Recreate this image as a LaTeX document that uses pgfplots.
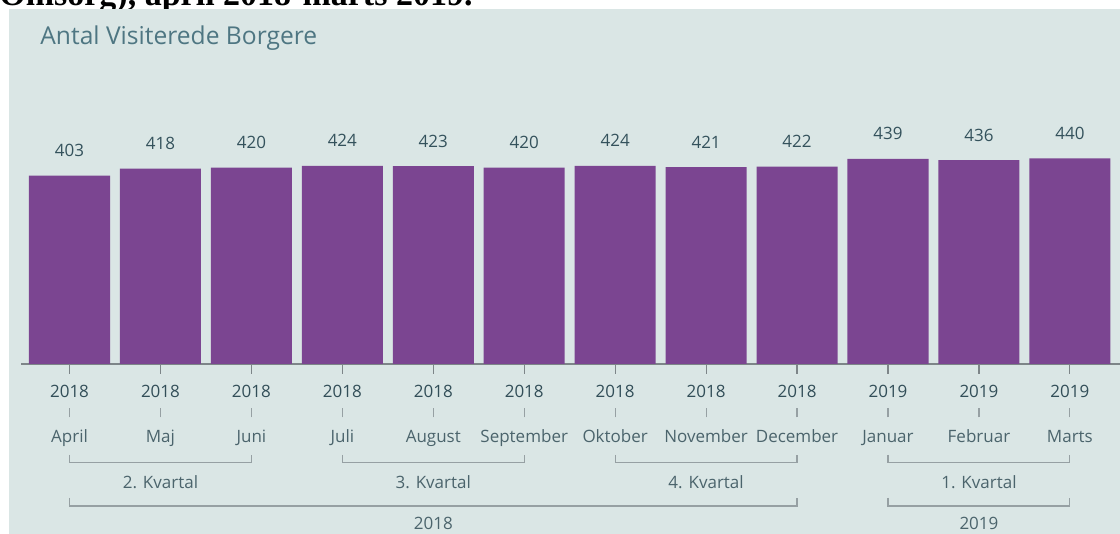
\documentclass[border=0pt]{standalone}
\usepackage{pgfplots}
\pgfplotsset{compat=1.18}
\usepackage{fontspec}
\setmainfont{Open Sans}
\newfontfamily\serifbold{Liberation Serif}
\definecolor{bgc}{RGB}{218,230,229}
\definecolor{barc}{RGB}{123,69,145}
\definecolor{titlec}{RGB}{78,118,130}
\definecolor{valc}{RGB}{52,82,92}
\definecolor{yearc}{RGB}{50,78,88}
\definecolor{monthc}{RGB}{75,100,108}
\definecolor{brkc}{RGB}{150,160,163}
\definecolor{axisc}{RGB}{125,133,136}
\newcommand\lbl[2]{#1\\\raisebox{1.25pt}{\textcolor{brkc}{\rule{0.6pt}{4.5pt}}}\\\textcolor{monthc}{#2}}
\begin{document}
\begin{tikzpicture}
\useasboundingbox (0,0) rectangle (560pt,267pt);
\begin{scope}
\clip (0,0) rectangle (560pt,267pt);
\node[anchor=base west, inner sep=0pt] at (-0.5pt,264pt) {\serifbold\bfseries\fontsize{17}{19}\selectfont Omsorg), april 2018-marts 2019.};
\fill[bgc] (4.5pt,0pt) rectangle (560pt,262.25pt);
\end{scope}
\node[anchor=base west, inner sep=0pt, text=titlec, font=\fontsize{12.3}{14}\selectfont] at (20pt,244.5pt) {Antal Visiterede Borgere};
\begin{axis}[
  at={(10.65pt,85pt)}, anchor=south west,
  scale only axis, width=549.3pt, height=116.875pt,
  xmin=-0.53, xmax=11.55, ymin=0, ymax=500,
  axis x line=bottom, axis y line=none,
  x axis line style={-, color=axisc, line width=0.6pt},
  clip=false,
  /pgf/number format/assume math mode=true,
  ybar, bar width=40.5pt,
  xtick=data,
  xticklabels={{\lbl{2018}{April}},{\lbl{2018}{Maj}},{\lbl{2018}{Juni}},{\lbl{2018}{Juli}},{\lbl{2018}{August}},{\lbl{2018}{September}},{\lbl{2018}{Oktober}},{\lbl{2018}{November}},{\lbl{2018}{December}},{\lbl{2019}{Januar}},{\lbl{2019}{Februar}},{\lbl{2019}{Marts}}},
  xticklabel style={align=center, font=\fontsize{8.5}{11.3}\selectfont, text=yearc, inner sep=0pt, anchor=north, yshift=-5.25pt},
  tick align=outside, major tick length=5pt,
  x tick style={color=axisc, line width=0.6pt},
  nodes near coords,
  nodes near coords style={font=\fontsize{8.5}{10}\selectfont, text=valc, anchor=center, yshift=12.5pt},
]
\addplot[fill=barc, draw=none] coordinates {
  (0,403) (1,418) (2,420) (3,424) (4,423) (5,420)
  (6,424) (7,421) (8,422) (9,439) (10,436) (11,440)
};
\tikzset{brk/.style={draw=brkc, line width=0.6pt}, qlab/.style={font=\fontsize{8.5}{10}\selectfont, text=monthc, inner sep=0pt, anchor=center}}
\draw[brk] ([yshift=-45.5pt]axis cs:0,0) -- ([yshift=-49.35pt]axis cs:0,0) -| ([yshift=-45.5pt]axis cs:2,0);
\draw[brk] ([yshift=-45.5pt]axis cs:3,0) -- ([yshift=-49.35pt]axis cs:3,0) -| ([yshift=-45.5pt]axis cs:5,0);
\draw[brk] ([yshift=-45.5pt]axis cs:6,0) -- ([yshift=-49.35pt]axis cs:6,0) -| ([yshift=-45.5pt]axis cs:8,0);
\draw[brk] ([yshift=-45.5pt]axis cs:9,0) -- ([yshift=-49.35pt]axis cs:9,0) -| ([yshift=-45.5pt]axis cs:11,0);
\node[qlab] at ([yshift=-58.85pt]axis cs:1,0) {2. Kvartal};
\node[qlab] at ([yshift=-58.85pt]axis cs:4,0) {3. Kvartal};
\node[qlab] at ([yshift=-58.85pt]axis cs:7,0) {4. Kvartal};
\node[qlab] at ([yshift=-58.85pt]axis cs:10,0) {1. Kvartal};
\draw[brk] ([yshift=-67pt]axis cs:0,0) -- ([yshift=-71pt]axis cs:0,0) -| ([yshift=-67pt]axis cs:8,0);
\draw[brk] ([yshift=-67pt]axis cs:9,0) -- ([yshift=-71pt]axis cs:9,0) -| ([yshift=-67pt]axis cs:11,0);
\node[qlab] at ([yshift=-79.5pt]axis cs:4,0) {2018};
\node[qlab] at ([yshift=-79.5pt]axis cs:10,0) {2019};
\end{axis}
\end{tikzpicture}
\end{document}
